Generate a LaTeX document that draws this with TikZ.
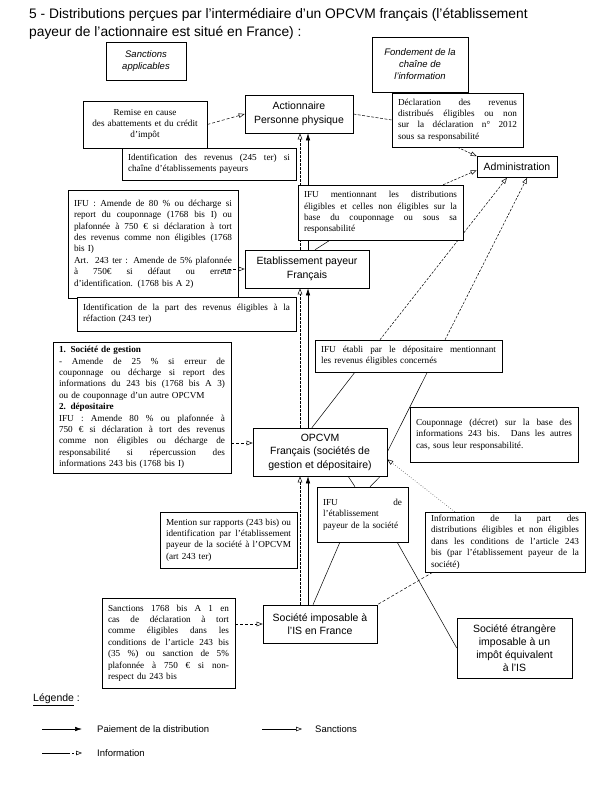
\documentclass[tikz,border=0pt]{standalone}
\usepackage{fontspec}
\setmainfont{Liberation Serif}
\setsansfont{Liberation Sans}
\usetikzlibrary{arrows.meta,backgrounds,calc}
\newcommand\jl[1]{\noindent\hbox to\hsize{\spaceskip=0pt\xspaceskip=0pt #1}}
\begin{document}
\begin{tikzpicture}[x=1pt,y=-1pt,
  ann/.style={draw, fill=white, line width=0.6pt, font=\fontsize{9.2}{11.4}\selectfont, align=left, inner xsep=6pt, inner ysep=2pt},
  main/.style={draw, fill=white, line width=0.6pt, font=\sffamily\fontsize{10.5}{13.5}\selectfont, align=center, inner sep=2pt},
  hint/.style={draw, fill=white, line width=0.6pt, font=\sffamily\itshape\fontsize{9.5}{12}\selectfont, align=center, inner sep=2pt},
  pay/.style={line width=0.6pt, -{Latex[length=7pt,width=4.5pt]}},
  sanc/.style={line width=0.5pt, dash pattern=on 3pt off 2pt, -{Triangle[open,length=6pt,width=4.5pt]}},
  inf/.style={line width=0.5pt, dash pattern=on 2.5pt off 1.5pt, -{Triangle[open,length=6pt,width=4.5pt]}},
  cal/.style={line width=0.5pt},
  lbl/.style={anchor=west, font=\sffamily\fontsize{9.5}{12}\selectfont, inner sep=0pt},
]
\useasboundingbox (0,0) rectangle (591,797);

% title
\node[anchor=west, inner sep=0pt, font=\sffamily\fontsize{13.8}{16}\selectfont] (t1) at (29,15) {5 - Distributions perçues par l'intermédiaire d'un OPCVM français (l'établissement};
\node[anchor=west, inner sep=0pt, font=\sffamily\fontsize{13.8}{16}\selectfont] (t2) at (29,33) {payeur de l'actionnaire est situé en France) :};

% heading boxes
\node[hint, minimum width=80pt, minimum height=38pt] (sancapp) at (146,61) {Sanctions\\applicables};
\node[hint, minimum width=96pt, minimum height=55pt] (fond) at (420,64.5) {Fondement de la\\chaîne de\\l'information};

% main nodes
\node[main, minimum width=108pt, minimum height=38pt] (action) at (299,114) {Actionnaire\\Personne physique};
\node[main, minimum width=80pt, minimum height=21pt] (admin) at (517,167) {Administration};
\node[main, minimum width=124pt, minimum height=38pt] (etab) at (307,269) {Etablissement payeur\\Français};
\node[main, minimum width=134pt, minimum height=48pt] (opcvm) at (320,452) {OPCVM\\Français (sociétés de\\gestion et dépositaire)};
\node[main, minimum width=114pt, minimum height=38pt] (socfr) at (320,624) {Société imposable à\\l'IS en France};
\node[main, minimum width=115pt, minimum height=60pt, font=\sffamily\fontsize{10.5}{13.2}\selectfont] (socet) at (514.5,648) {Société étrangère\\imposable à un\\impôt équivalent\\à l'IS};

% annotation boxes
\node[ann, align=center, text width=112pt, minimum height=47pt] (remise) at (145,124.5) {Remise en cause\\des abattements et du crédit\\d'impôt};
\node[ann, text width=162pt, minimum height=32pt] (ident1) at (209,164) {\jl{Identification des revenus (245 ter) si}\\chaîne d'établissements payeurs};
\node[ann, text width=119pt, minimum height=54pt] (decl) at (457.5,120) {\jl{Déclaration des revenus}\\\jl{distribués éligibles ou non}\\\jl{sur la déclaration n° 2012}\\sous sa responsabilité};
\node[ann, text width=158pt, minimum height=108pt] (ifusanc) at (153,244) {\jl{IFU : Amende de 80 \% ou décharge si}\\\jl{report du couponnage (1768 bis I) ou}\\\jl{plafonnée à 750 € si déclaration à tort}\\\jl{des revenus comme non éligibles (1768}\\bis I)\\\jl{Art. 243 ter : Amende de 5\% plafonnée}\\\jl{à 750€ si défaut ou erreur}\\d'identification. (1768 bis A 2)};
\node[ann, text width=153pt, minimum height=55pt] (ifument) at (380.5,212.5) {\jl{IFU mentionnant les distributions}\\\jl{éligibles et celles non éligibles sur la}\\\jl{base du couponnage ou sous sa}\\responsabilité};
\node[ann, text width=207pt, minimum height=34pt] (ident2) at (186.5,314) {\jl{Identification de la part des revenus éligibles à la}\\réfaction (243 ter)};
\node[ann, text width=175pt, minimum height=32pt] (ifuetab) at (408.5,356) {\jl{IFU établi par le dépositaire mentionnant}\\les revenus éligibles concernés};
\node[ann, text width=166pt, minimum height=131pt] (sancgest) at (142,407.5) {\textbf{1. Société de gestion}\\\jl{- Amende de 25 \% si erreur de}\\\jl{couponnage ou décharge si report des}\\\jl{informations du 243 bis (1768 bis A 3)}\\ou de couponnage d'un autre OPCVM\\\textbf{2. dépositaire}\\\jl{IFU : Amende 80 \% ou plafonnée à}\\\jl{750 € si déclaration à tort des revenus}\\\jl{comme non éligibles ou décharge de}\\\jl{responsabilité si répercussion des}\\informations 243 bis (1768 bis I)};
\node[ann, text width=156pt, minimum height=55pt] (coupon) at (494,434.5) {\jl{Couponnage (décret) sur la base des}\\\jl{informations 243 bis. Dans les autres}\\cas, sous leur responsabilité.};
\node[ann, text width=79pt, minimum height=55pt] (ifusoc) at (362.5,514.5) {\jl{IFU\hfil de}\\l'établissement\\payeur de la société};
\node[ann, text width=125pt, minimum height=56pt] (mention) at (228.5,540) {\jl{Mention sur rapports (243 bis) ou}\\\jl{identification par l'établissement}\\\jl{payeur de la société à l'OPCVM}\\(art 243 ter)};
\node[ann, text width=148pt, minimum height=60pt] (info) at (505,542) {\jl{Information de la part des}\\\jl{distributions éligibles et non éligibles}\\\jl{dans les conditions de l'article 243}\\\jl{bis (par l'établissement payeur de la}\\société)};
\node[ann, text width=121pt, minimum height=90pt] (sanc1768) at (168.5,643) {\jl{Sanctions 1768 bis A 1 en}\\\jl{cas de déclaration à tort}\\\jl{comme éligibles dans les}\\\jl{conditions de l'article 243 bis}\\\jl{(35 \%) ou sanction de 5\%}\\\jl{plafonnée à 750 € si non-}\\respect du 243 bis};

% helper coordinates
\coordinate (x300) at (300,0);
\coordinate (x308) at (308,0);
\coordinate (ysg) at (0,443);

\begin{pgfonlayer}{background}
% payment flow
\draw[pay] (etab.north -| x308) -- (action.south -| x308);
\draw[pay] (opcvm.north -| x308) -- (etab.south -| x308);
\draw[pay] (socfr.north -| x308) -- (opcvm.south -| x308);
% information flow along the chain
\draw[inf] (etab.north -| x300) -- (action.south -| x300);
\draw[inf] (opcvm.north -| x300) -- (etab.south -| x300);
\draw[inf] (socfr.north -| x300) -- (opcvm.south -| x300);
% information to the administration
\draw[cal, dash pattern=on 3pt off 1.5pt] (action.east) -- (decl.west);
\draw[inf] (decl.south) -- (admin.north west);
\draw[cal] ($(etab.north west)!0.565!(etab.north east)$) -- ($(ifument.south west)!0.194!(ifument.south east)$);
\draw[inf] ($(ifument.north west)!0.879!(ifument.north east)$) -- ($(admin.north west)!0.65!(admin.south west)$);
\draw[inf] ($(ifuetab.north west)!0.348!(ifuetab.north east)$) -- ($(admin.south west)!0.375!(admin.south east)$);
\draw[inf] ($(ifuetab.north west)!0.695!(ifuetab.north east)$) -- ($(admin.south west)!0.625!(admin.south east)$);
\draw[cal] ($(opcvm.north west)!0.44!(opcvm.north east)$) -- ($(ifuetab.south west)!0.214!(ifuetab.south east)$);
\draw[cal] (opcvm.east) -- ($(ifuetab.south west)!0.6!(ifuetab.south east)$);
% information from the companies to the OPCVM
\draw[inf, dotted] ($(info.north west)!0.1875!(info.north east)$) -- ($(opcvm.north east)!0.65!(opcvm.south east)$);
\draw[cal, dash pattern=on 3pt off 2pt] ($(info.south west)!0.05!(info.south east)$) -- (socfr.north east);
\draw[cal] ($(opcvm.south west)!0.709!(opcvm.south east)$) -- ($(ifusoc.north west)!0.418!(ifusoc.north east)$);
\draw[cal] ($(opcvm.south west)!0.948!(opcvm.south east)$) -- ($(ifusoc.north west)!0.582!(ifusoc.north east)$);
\draw[cal] ($(ifusoc.south west)!0.253!(ifusoc.south east)$) -- ($(socfr.north west)!0.439!(socfr.north east)$);
\draw[cal] ($(ifusoc.south west)!0.879!(ifusoc.south east)$) -- (socet.west);
\end{pgfonlayer}

% sanctions
\draw[sanc] (remise.east) -- (action.west);
\draw[sanc, shorten <=-15pt] (ifusanc.east |- etab.west) -- (etab.west);
\draw[sanc] (sancgest.east |- ysg) -- (opcvm.west |- ysg);
\draw[sanc] (sanc1768.east |- socfr.west) -- (socfr.west);

% legend
\node[anchor=west, inner sep=0pt, font=\sffamily\fontsize{10.5}{12}\selectfont] (leg) at (33,700) {\underline{Légende} :};
\coordinate (lp1) at (42,729); \coordinate (lp2) at (82,729);
\coordinate (ls1) at (262,729); \coordinate (ls2) at (302,729);
\coordinate (li1) at (42,753); \coordinate (li2) at (82,753);
\draw[line width=0.6pt, -{Latex[length=7pt,width=4.5pt]}] (lp1) -- (lp2);
\draw[line width=0.5pt, -{Triangle[open,length=6pt,width=4.5pt]}] (ls1) -- (ls2);
\draw[line width=0.5pt, dash pattern=on 28pt off 2pt on 1.5pt off 2pt, -{Triangle[open,length=6pt,width=4.5pt]}] (li1) -- (li2);
\node[lbl] (lpt) at (97,729) {Paiement de la distribution};
\node[lbl] (lst) at (315,729) {Sanctions};
\node[lbl] (lit) at (97,753) {Information};
\end{tikzpicture}
\end{document}
